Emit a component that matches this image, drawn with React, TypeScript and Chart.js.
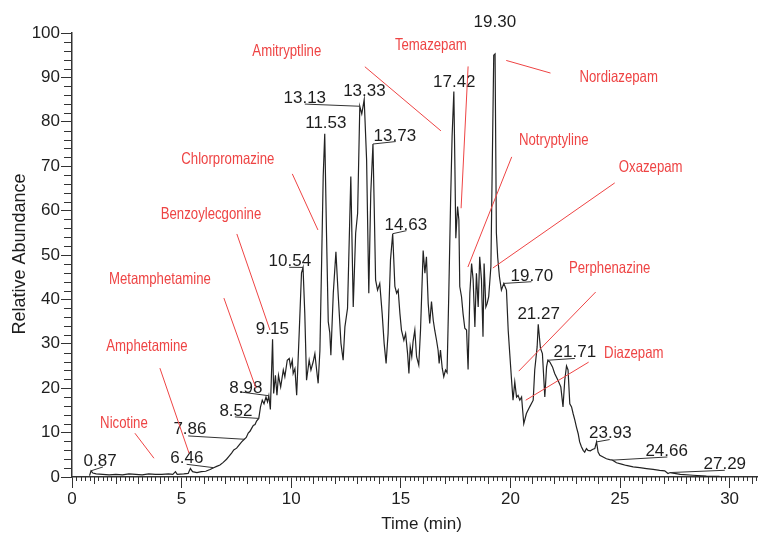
import React, { useEffect, useRef } from 'react';
import { Chart, registerables } from 'chart.js';

Chart.register(...registerables);

// ---- Chromatogram trace (time in min, relative abundance in %) ----
const retentionTimes = [
  0.80, 0.87, 0.95, 1.10, 1.40, 1.70, 2.00, 2.30, 2.60, 2.90, 3.20, 3.50, 3.80, 4.10, 4.40, 4.60, 4.72, 4.80,
  5.10, 5.30, 5.40, 5.50, 5.70, 5.90, 6.10, 6.30, 6.46, 6.60, 6.75, 6.90, 7.05, 7.15, 7.28, 7.38, 7.51, 7.62,
  7.74, 7.86, 7.95, 8.04, 8.12, 8.20, 8.27, 8.35, 8.42, 8.52, 8.60, 8.68, 8.76, 8.85, 8.92, 8.98, 9.05, 9.15,
  9.20, 9.28, 9.35, 9.42, 9.52, 9.64, 9.71, 9.82, 9.91, 9.97, 10.05, 10.09, 10.17, 10.25, 10.37, 10.47, 10.54,
  10.62, 10.70, 10.82, 10.90, 11.00, 11.08, 11.16, 11.23, 11.31, 11.39, 11.46, 11.53, 11.61, 11.69, 11.76,
  11.81, 11.92, 12.04, 12.14, 12.27, 12.37, 12.45, 12.57, 12.72, 12.83, 12.94, 13.03, 13.13, 13.22, 13.33,
  13.44, 13.54, 13.63, 13.73, 13.79, 13.85, 13.94, 14.04, 14.15, 14.24, 14.33, 14.42, 14.53, 14.63, 14.73,
  14.81, 14.88, 14.96, 15.03, 15.14, 15.22, 15.31, 15.37, 15.43, 15.50, 15.56, 15.64, 15.72, 15.82, 15.90,
  16.02, 16.10, 16.17, 16.25, 16.32, 16.40, 16.48, 16.55, 16.63, 16.70, 16.75, 16.81, 16.89, 16.96, 17.04,
  17.11, 17.19, 17.27, 17.34, 17.42, 17.47, 17.51, 17.59, 17.65, 17.69, 17.77, 17.84, 17.92, 18.00, 18.07,
  18.15, 18.23, 18.30, 18.38, 18.45, 18.53, 18.60, 18.68, 18.75, 18.80, 18.88, 18.94, 19.01, 19.11, 19.24,
  19.30, 19.36, 19.42, 19.50, 19.59, 19.70, 19.82, 19.90, 19.97, 20.05, 20.12, 20.20, 20.28, 20.35, 20.43,
  20.51, 20.61, 20.73, 20.88, 21.04, 21.11, 21.22, 21.27, 21.37, 21.46, 21.57, 21.65, 21.71, 21.80, 21.92,
  22.02, 22.17, 22.30, 22.40, 22.48, 22.56, 22.63, 22.71, 22.79, 22.86, 22.94, 23.01, 23.09, 23.16, 23.24,
  23.32, 23.39, 23.47, 23.54, 23.65, 23.74, 23.85, 23.93, 24.00, 24.08, 24.23, 24.38, 24.53, 24.66, 24.84,
  25.07, 25.29, 25.60, 25.90, 26.21, 26.51, 26.81, 27.04, 27.19, 27.29, 27.75, 28.33, 28.94, 29.54,
];

const relativeAbundance = [
  0.3, 1.4, 0.9, 0.7, 0.6, 0.5, 0.6, 0.5, 0.7, 0.6, 0.5, 0.7, 0.6, 0.6, 0.7, 0.6, 1.2, 0.6,
  0.7, 0.8, 1.9, 1.2, 1.0, 1.2, 1.3, 1.7, 2.1, 2.4, 2.7, 3.3, 4.0, 4.6, 5.4, 6.1, 6.5, 7.2,
  7.9, 8.5, 8.9, 9.9, 10.3, 11.0, 11.6, 11.8, 12.6, 13.2, 15.8, 17.3, 16.5, 18.0, 16.9, 18.3, 15.2, 31.0,
  18.8, 22.9, 18.4, 22.9, 20.3, 24.1, 22.6, 26.3, 26.7, 24.8, 26.3, 23.3, 24.4, 18.4, 33.1, 46.0, 47.2,
  36.8, 21.8, 26.3, 24.1, 25.9, 27.8, 24.1, 21.1, 28.5, 48.9, 67.7, 77.3, 55.0, 35.0, 32.5,
  27.4, 41.4, 50.7, 41.4, 30.1, 26.3, 33.8, 38.0, 67.7, 38.3, 54.9, 59.4, 83.5, 81.8, 85.0,
  71.4, 41.4, 63.9, 75.0, 60.1, 44.4, 42.1, 43.6, 36.8, 30.1, 25.6, 32.3, 48.9, 54.8, 42.9,
  41.4, 42.1, 36.8, 33.1, 30.8, 32.3, 27.8, 23.3, 29.3, 27.1, 30.5, 33.1, 27.1, 25.2, 33.1,
  51.0, 45.9, 49.6, 39.1, 34.6, 39.5, 35.3, 33.0, 30.8, 28.6, 25.6, 28.6, 24.5, 22.6, 24.1,
  23.5, 41.4, 61.7, 76.7, 86.8, 69.2, 53.8, 60.9, 57.9, 42.9, 40.6, 36.8, 33.5, 33.1, 24.2,
  41.4, 48.1, 44.4, 33.8, 45.9, 38.3, 49.6, 44.4, 31.6, 48.1, 38.3, 39.1, 40.6, 47.4, 95.0,
  95.3, 55.0, 49.5, 45.1, 42.1, 43.6, 42.1, 33.0, 27.8, 22.0, 17.3, 21.4, 18.0, 18.4, 17.3,
  18.0, 12.0, 14.3, 15.8, 17.3, 24.1, 29.3, 34.4, 29.0, 27.8, 18.0, 24.8, 26.3, 25.9, 24.8,
  23.3, 21.8, 20.3, 15.8, 21.8, 25.0, 24.1, 16.5, 15.8, 14.3, 12.8, 11.3, 9.8, 7.9, 6.8,
  6.0, 5.6, 6.4, 6.0, 5.9, 6.2, 6.4, 7.9, 5.6, 4.9, 4.5, 4.1, 3.9, 3.8, 3.2,
  2.9, 2.6, 2.3, 2.1, 1.9, 1.7, 1.5, 1.4, 0.8, 1.0, 0.6, 0.4, 0.2, 0.15,
];

// ---- Axis ticks ----
const xMajorStep = 5;
const xMediumStep = 1;
const xMinorStep = 0.2;
const yMajorStep = 10;
const yMinorStep = 2;

// ---- Peak (retention time) labels ----
const peakLabels = [
  '0.87', '6.46', '7.86', '8.52', '8.98', '9.15', '10.54', '11.53', '13.13', '13.33',
  '13.73', '14.63', '17.42', '19.30', '19.70', '21.27', '21.71', '23.93', '24.66', '27.29',
];
// text anchor [time, abundance]
const peakTextPos = [
  [1.28, 3.77], [5.24, 4.44], [5.38, 10.98], [7.48, 15.04], [7.93, 20.23], [9.14, 33.54],
  [9.94, 48.87], [11.58, 79.99], [10.62, 85.63], [13.34, 87.21], [14.73, 77.06], [15.23, 57.0],
  [17.44, 89.24], [19.29, 102.77], [20.98, 45.49], [21.29, 36.92], [22.94, 28.35],
  [24.56, 10.08], [27.13, 6.02], [29.78, 3.09],
];
// start of the leader line near the text (null: no leader)
const peakLeaderFrom: (number[] | null)[] = [
  [1.41, 2.26], [5.23, 2.86], [5.30, 9.25], [7.43, 13.53], [7.66, 19.17], null,
  [9.91, 47.23], null, [10.62, 83.99], null, [14.77, 75.55], [15.26, 55.48],
  null, null, [20.96, 43.98], null, [22.94, 26.70],
  [24.53, 8.43], [27.16, 4.51], [29.78, 1.51],
];

// ---- Compound annotations ----
const compoundNames = [
  'Nicotine', 'Amphetamine', 'Metamphetamine', 'Benzoylecgonine', 'Chlorpromazine', 'Amitryptline',
  'Temazepam', 'Nordiazepam', 'Notryptyline', 'Oxazepam', 'Perphenazine', 'Diazepam',
];
const compoundTextPos = [
  [2.37, 12.34], [3.42, 29.70], [4.01, 44.81], [6.34, 59.47], [7.11, 71.88], [9.80, 96.23],
  [16.37, 97.59], [24.94, 90.34], [21.98, 76.16], [26.40, 70.07], [24.53, 47.29], [25.63, 28.13],
];
// [t1, v1, t2, v2]
const compoundLeaders = [
  [2.87, 9.86, 3.74, 4.22], [4.01, 24.52, 5.34, 5.34], [6.93, 40.30, 8.39, 20.0],
  [7.52, 54.74, 9.03, 33.09], [10.05, 68.27, 11.22, 55.64], [13.36, 92.40, 16.83, 77.96],
  [18.07, 92.47, 17.75, 60.53], [19.81, 93.82, 21.83, 90.98], [20.06, 72.10, 18.06, 47.29],
  [24.76, 66.24, 19.20, 47.07], [23.89, 41.66, 20.38, 23.84], [23.57, 25.87, 20.70, 17.30],
];

const FONT = '"Liberation Sans", Arial, Helvetica, sans-serif';
const RED = '#ee4444';
const INK = '#1e1e1e';

const overlayPlugin = {
  id: 'overlay',
  afterDraw(chart: any) {
    const { ctx, scales } = chart;
    const xs = scales.x;
    const ys = scales.y;
    const X = (t: number) => xs.getPixelForValue(t);
    const Y = (v: number) => ys.getPixelForValue(v);
    ctx.save();

    // minor / medium tick marks
    ctx.strokeStyle = '#333';
    ctx.lineWidth = 1;
    ctx.beginPath();
    const nX = Math.floor(xs.max / xMinorStep + 1e-6);
    const perMed = Math.round(xMediumStep / xMinorStep);
    const perMaj = Math.round(xMajorStep / xMinorStep);
    for (let i = 1; i <= nX; i++) {
      if (i % perMaj === 0) continue;
      const px = Math.round(X(i * xMinorStep)) + 0.5;
      const len = i % perMed === 0 ? 7 : 4;
      ctx.moveTo(px, ys.bottom);
      ctx.lineTo(px, ys.bottom + len);
    }
    for (let v = yMinorStep; v < ys.max; v += yMinorStep) {
      if (v % yMajorStep === 0) continue;
      const py = Math.round(Y(v)) + 0.5;
      ctx.moveTo(xs.left - 8, py);
      ctx.lineTo(xs.left, py);
    }
    ctx.stroke();

    // axis titles
    ctx.fillStyle = INK;
    ctx.font = `17px ${FONT}`;
    ctx.textAlign = 'center';
    ctx.textBaseline = 'alphabetic';
    ctx.fillText('Time (min)', X(15.95), ys.bottom + 51.5);
    ctx.save();
    ctx.translate(25, (ys.top + ys.bottom) / 2 - 1);
    ctx.rotate(-Math.PI / 2);
    ctx.font = `18px ${FONT}`;
    ctx.fillText('Relative Abundance', 0, 0);
    ctx.restore();

    // peak leaders + labels
    ctx.strokeStyle = '#333';
    ctx.lineWidth = 1;
    peakLabels.forEach((lab, i) => {
      const t = parseFloat(lab);
      const idx = retentionTimes.indexOf(t);
      const apex = relativeAbundance[idx];
      const from = peakLeaderFrom[i];
      if (from) {
        ctx.beginPath();
        ctx.moveTo(X(from[0]), Y(from[1]));
        ctx.lineTo(X(t), Y(apex));
        ctx.stroke();
      }
    });
    ctx.fillStyle = INK;
    ctx.font = `17px ${FONT}`;
    peakLabels.forEach((lab, i) => {
      const p = peakTextPos[i];
      ctx.fillText(lab, X(p[0]), Y(p[1]) + 6.1);
    });

    // compound leaders + names
    ctx.strokeStyle = RED;
    ctx.lineWidth = 1;
    compoundLeaders.forEach((l) => {
      ctx.beginPath();
      ctx.moveTo(X(l[0]), Y(l[1]));
      ctx.lineTo(X(l[2]), Y(l[3]));
      ctx.stroke();
    });
    ctx.fillStyle = RED;
    ctx.font = `16.5px ${FONT}`;
    compoundNames.forEach((name, i) => {
      const p = compoundTextPos[i];
      ctx.save();
      ctx.translate(X(p[0]), Y(p[1]) + 6);
      ctx.scale(0.8, 1);
      ctx.fillText(name, 0, 0);
      ctx.restore();
    });

    ctx.restore();
  },
};

export default function App() {
  const canvasRef = useRef<HTMLCanvasElement>(null);

  useEffect(() => {
    const canvas = canvasRef.current;
    if (!canvas) return;
    const points = retentionTimes.map((t, i) => ({ x: t, y: relativeAbundance[i] }));
    const tickFont = { family: FONT, size: 17 };
    const chart = new Chart(canvas, {
      type: 'line',
      data: {
        datasets: [
          {
            data: points,
            borderColor: '#222',
            borderWidth: 1.2,
            pointRadius: 0,
            tension: 0,
            fill: false,
          },
        ],
      },
      options: {
        animation: false,
        responsive: false,
        devicePixelRatio: 1,
        events: [],
        layout: { padding: { top: 33, right: 7, left: 0, bottom: 0 } },
        plugins: {
          legend: { display: false },
          tooltip: { enabled: false },
          title: { display: false },
        },
        scales: {
          x: {
            type: 'linear',
            min: 0,
            max: 31.25,
            afterFit: (s: any) => {
              s.height = 56;
            },
            ticks: {
              stepSize: xMajorStep,
              includeBounds: false,
              autoSkip: false,
              maxRotation: 0,
              padding: 1,
              color: INK,
              font: tickFont,
              callback: (v: any) => String(v),
            },
            grid: {
              display: true,
              drawOnChartArea: false,
              drawTicks: true,
              tickLength: 11,
              color: '#333',
              lineWidth: 1,
            },
            border: { display: true, color: '#333', width: 1.5 },
          },
          y: {
            type: 'linear',
            min: 0,
            max: 100,
            afterFit: (s: any) => {
              s.width = 72;
            },
            ticks: {
              stepSize: yMajorStep,
              padding: 1,
              color: INK,
              font: tickFont,
              callback: (v: any) => String(v),
            },
            grid: {
              display: true,
              drawOnChartArea: false,
              drawTicks: true,
              tickLength: 11,
              color: '#333',
              lineWidth: 1,
            },
            border: { display: true, color: '#333', width: 1.5 },
          },
        },
      },
      plugins: [overlayPlugin],
    } as any);
    return () => chart.destroy();
  }, []);

  return (
    <div style={{ position: 'fixed', left: 0, top: 0, width: 764, height: 533, background: '#fff' }}>
      <canvas ref={canvasRef} width={764} height={533} style={{ display: 'block', width: 764, height: 533 }} />
    </div>
  );
}
